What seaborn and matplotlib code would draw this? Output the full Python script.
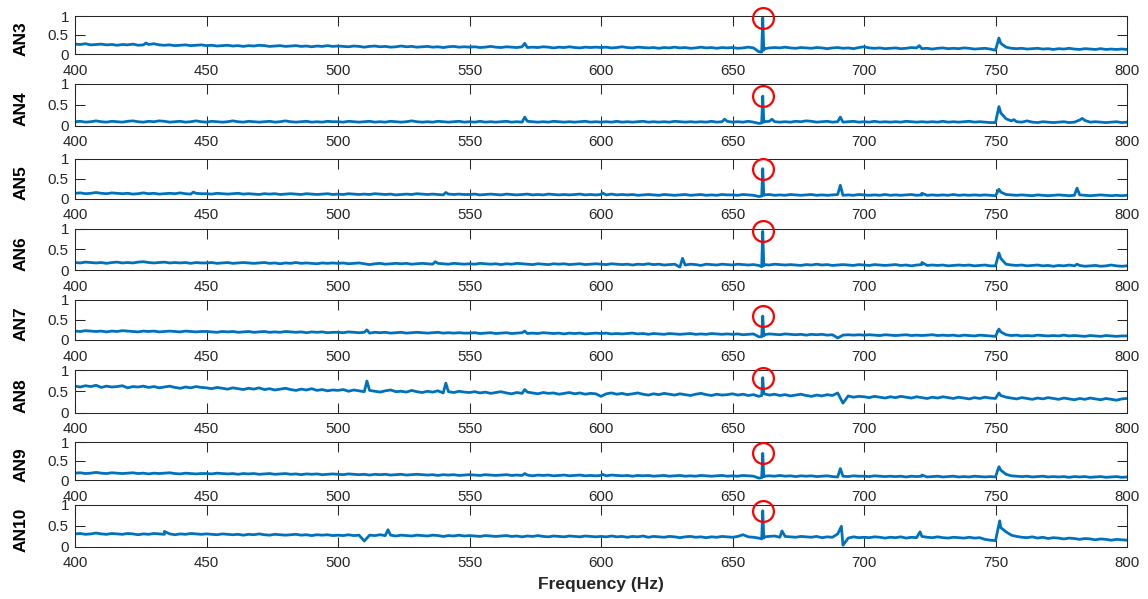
import numpy as np
import pandas as pd
import matplotlib
matplotlib.use("Agg")
import matplotlib.pyplot as plt
import seaborn as sns

# Amplitude spectra of the AN3..AN10 channels, 400-800 Hz
channels = ["AN3", "AN4", "AN5", "AN6", "AN7", "AN8", "AN9", "AN10"]
freq_grid_hz = np.arange(400, 801, 2)

# Background level on the 2 Hz grid, in hundredths
an3_level = [
    26, 25, 27, 24, 25, 26, 24, 25, 23, 25, 24, 26, 23, 24, 25, 27, 24, 23, 24, 22, 23, 24, 22, 23, 24,
    22, 23, 21, 22, 23, 21, 22, 20, 22, 21, 23, 22, 20, 21, 22, 20, 21, 22, 20, 21, 19, 21, 20, 22, 20,
    21, 20, 19, 21, 20, 18, 20, 21, 19, 20, 18, 19, 21, 19, 20, 18, 19, 20, 18, 19, 17, 19, 20, 18, 19,
    18, 19, 17, 18, 20, 18, 17, 19, 18, 17, 19, 17, 18, 17, 19, 18, 16, 18, 17, 19, 17, 16, 18, 17, 18,
    17, 18, 16, 17, 19, 17, 16, 18, 17, 16, 17, 15, 17, 16, 18, 16, 17, 15, 16, 18, 16, 17, 15, 17, 16,
    17, 15, 16, 18, 16, 6, 14, 16, 17, 16, 18, 16, 15, 17, 16, 15, 17, 16, 14, 16, 17, 15, 16, 14, 17,
    19, 16, 15, 16, 14, 15, 16, 14, 15, 17, 16, 14, 15, 13, 15, 16, 14, 15, 14, 16, 15, 13, 14, 15, 13,
    10, 28, 18, 15, 14, 15, 13, 14, 15, 13, 14, 12, 14, 13, 15, 13, 12, 14, 13, 12, 14, 12, 13, 12, 13,
    12]
an4_level = [
    9, 10, 8, 9, 11, 9, 8, 10, 9, 8, 10, 11, 9, 8, 10, 9, 11, 10, 8, 9, 10, 8, 9, 11, 9,
    8, 10, 9, 8, 9, 11, 9, 8, 10, 9, 8, 9, 10, 8, 9, 11, 9, 8, 9, 10, 8, 9, 8, 10, 9,
    9, 8, 10, 9, 8, 9, 10, 8, 9, 8, 10, 9, 8, 9, 11, 9, 8, 9, 8, 10, 9, 8, 9, 10, 8,
    9, 8, 10, 8, 9, 8, 9, 10, 8, 9, 8, 10, 9, 8, 9, 8, 10, 9, 8, 9, 8, 9, 10, 8, 9,
    8, 9, 8, 10, 8, 9, 8, 9, 10, 8, 9, 8, 9, 8, 10, 9, 8, 9, 8, 9, 8, 10, 8, 9, 10,
    8, 9, 8, 10, 8, 5, 9, 10, 9, 8, 9, 8, 10, 9, 11, 10, 8, 9, 10, 8, 9, 8, 9, 10, 8,
    9, 8, 10, 8, 9, 8, 9, 8, 10, 9, 8, 9, 8, 9, 8, 10, 8, 9, 8, 9, 10, 8, 9, 8, 7,
    7, 30, 16, 11, 9, 8, 11, 8, 7, 9, 8, 7, 8, 9, 7, 8, 13, 12, 8, 9, 8, 7, 8, 9, 7,
    8]
an5_level = [
    13, 14, 12, 13, 15, 13, 12, 14, 13, 12, 13, 11, 12, 14, 12, 13, 11, 12, 13, 12, 14, 12, 11, 13, 12,
    12, 11, 13, 12, 11, 12, 13, 11, 12, 11, 10, 12, 11, 12, 10, 11, 12, 11, 10, 12, 11, 10, 11, 12, 10,
    11, 10, 12, 11, 10, 11, 10, 12, 11, 10, 11, 9, 10, 11, 10, 12, 11, 10, 11, 10, 9, 11, 10, 11, 10,
    10, 11, 9, 10, 11, 10, 9, 11, 10, 9, 10, 11, 9, 10, 9, 11, 10, 9, 10, 9, 10, 11, 9, 10, 9,
    10, 9, 11, 9, 10, 9, 10, 8, 9, 10, 9, 8, 10, 9, 8, 9, 10, 8, 9, 10, 8, 9, 8, 10, 9,
    9, 8, 10, 9, 8, 5, 9, 10, 8, 9, 8, 10, 9, 8, 9, 10, 8, 9, 8, 9, 10, 8, 9, 8, 10,
    9, 8, 9, 8, 10, 8, 9, 8, 9, 10, 8, 9, 8, 9, 8, 9, 8, 10, 8, 9, 8, 9, 8, 9, 8,
    7, 16, 10, 9, 8, 9, 8, 7, 9, 8, 7, 8, 9, 8, 7, 8, 9, 8, 7, 8, 9, 8, 7, 8, 7,
    8]
an6_level = [
    18, 17, 19, 18, 17, 18, 16, 18, 19, 17, 18, 17, 19, 20, 18, 17, 18, 19, 17, 18, 17, 18, 16, 18, 17,
    17, 18, 16, 17, 18, 16, 17, 18, 17, 16, 17, 18, 16, 17, 15, 17, 16, 18, 16, 17, 16, 15, 17, 16, 17,
    16, 17, 15, 16, 17, 15, 13, 15, 16, 14, 15, 16, 15, 16, 14, 15, 16, 15, 14, 16, 15, 14, 16, 15, 14,
    15, 14, 16, 15, 14, 15, 13, 15, 14, 16, 15, 14, 13, 15, 14, 13, 15, 14, 15, 13, 14, 15, 13, 14, 15,
    14, 13, 15, 14, 13, 14, 12, 14, 13, 15, 13, 14, 12, 13, 14, 7, 12, 14, 13, 11, 14, 13, 12, 14, 13,
    12, 14, 13, 12, 13, 11, 13, 12, 14, 13, 12, 13, 12, 11, 13, 12, 14, 12, 13, 11, 12, 13, 12, 11, 13,
    12, 11, 13, 12, 11, 12, 13, 11, 12, 10, 12, 13, 11, 12, 11, 12, 10, 11, 12, 11, 12, 10, 11, 12, 10,
    10, 28, 14, 12, 11, 12, 10, 11, 12, 10, 11, 9, 11, 10, 12, 10, 11, 9, 10, 11, 9, 10, 12, 10, 9,
    10]
an7_level = [
    22, 21, 23, 22, 21, 22, 20, 22, 21, 23, 22, 21, 20, 22, 21, 22, 20, 21, 22, 21, 20, 22, 21, 20, 21,
    21, 20, 19, 21, 20, 21, 19, 20, 21, 19, 20, 21, 19, 20, 19, 21, 20, 19, 20, 18, 20, 19, 20, 18, 19,
    19, 18, 20, 19, 18, 19, 17, 19, 18, 19, 17, 18, 19, 17, 18, 19, 18, 17, 18, 19, 17, 18, 17, 18, 17,
    17, 18, 16, 17, 18, 16, 17, 18, 16, 17, 18, 16, 17, 16, 18, 17, 16, 17, 15, 17, 16, 17, 15, 16, 17,
    16, 17, 15, 16, 15, 16, 17, 15, 16, 14, 16, 15, 14, 16, 15, 14, 15, 16, 14, 15, 14, 16, 15, 14, 15,
    14, 15, 13, 14, 15, 8, 13, 15, 14, 13, 15, 14, 13, 14, 12, 14, 13, 14, 12, 13, 5, 12, 13, 12, 13,
    12, 13, 12, 11, 13, 12, 11, 12, 13, 11, 12, 11, 12, 13, 11, 12, 11, 12, 10, 12, 11, 10, 12, 11, 10,
    9, 20, 13, 11, 12, 10, 11, 10, 12, 11, 10, 11, 10, 12, 10, 11, 10, 9, 11, 10, 9, 11, 10, 9, 10,
    10]
an8_level = [
    62, 60, 63, 61, 64, 59, 62, 60, 61, 63, 58, 61, 60, 62, 59, 61, 58, 60, 62, 59, 57, 60, 58, 61, 59,
    58, 56, 59, 57, 55, 58, 56, 54, 57, 55, 58, 54, 56, 53, 55, 57, 54, 52, 55, 53, 56, 52, 54, 51, 53,
    52, 54, 50, 53, 51, 49, 52, 50, 48, 51, 53, 49, 50, 48, 52, 49, 47, 50, 48, 51, 46, 49, 47, 50, 48,
    47, 49, 46, 48, 45, 47, 49, 46, 44, 47, 45, 48, 46, 44, 47, 45, 46, 43, 45, 47, 44, 46, 43, 45, 44,
    38, 44, 46, 43, 45, 42, 44, 46, 43, 41, 44, 42, 45, 43, 41, 44, 42, 40, 43, 45, 42, 40, 43, 41, 42,
    44, 41, 43, 40, 42, 38, 44, 41, 43, 40, 42, 39, 41, 43, 40, 38, 41, 39, 42, 40, 46, 22, 39, 36, 38,
    37, 35, 38, 36, 34, 37, 35, 38, 36, 34, 37, 35, 33, 36, 34, 37, 35, 33, 36, 34, 32, 35, 33, 36, 34,
    33, 40, 36, 34, 32, 35, 33, 31, 34, 32, 35, 33, 31, 34, 32, 30, 33, 31, 34, 32, 30, 33, 31, 29, 32,
    33]
an9_level = [
    18, 19, 17, 18, 20, 18, 17, 19, 18, 17, 18, 19, 17, 18, 16, 18, 17, 18, 19, 17, 16, 18, 17, 16, 17,
    17, 16, 18, 17, 16, 17, 15, 17, 16, 17, 15, 16, 17, 15, 16, 17, 15, 16, 14, 16, 15, 16, 14, 15, 16,
    15, 14, 16, 15, 14, 15, 13, 15, 14, 15, 13, 14, 15, 13, 14, 15, 14, 13, 14, 12, 14, 13, 14, 12, 13,
    14, 13, 12, 14, 13, 12, 13, 14, 12, 13, 12, 13, 11, 13, 12, 13, 11, 12, 13, 11, 12, 13, 11, 12, 11,
    12, 11, 13, 12, 11, 12, 10, 12, 11, 12, 10, 11, 12, 10, 11, 12, 10, 11, 10, 12, 11, 10, 11, 12, 10,
    11, 10, 12, 11, 10, 5, 10, 11, 10, 12, 10, 11, 9, 11, 10, 11, 9, 10, 11, 9, 8, 10, 9, 11, 10,
    10, 9, 11, 10, 9, 10, 9, 10, 8, 10, 9, 10, 8, 9, 10, 8, 9, 10, 8, 9, 8, 10, 9, 8, 9,
    8, 26, 15, 11, 10, 9, 10, 8, 9, 10, 8, 9, 8, 9, 7, 9, 8, 9, 7, 8, 9, 7, 8, 9, 7,
    8]
an10_level = [
    30, 31, 29, 30, 32, 30, 29, 31, 30, 29, 31, 30, 28, 30, 29, 31, 30, 29, 30, 28, 30, 29, 31, 30, 29,
    30, 29, 28, 30, 29, 28, 29, 27, 29, 28, 30, 28, 27, 29, 28, 27, 28, 29, 27, 28, 26, 28, 27, 28, 26,
    27, 26, 28, 26, 27, 13, 27, 26, 28, 26, 27, 25, 27, 26, 25, 27, 26, 25, 27, 26, 24, 26, 25, 27, 25,
    26, 25, 24, 26, 25, 24, 25, 26, 24, 25, 23, 25, 24, 26, 24, 23, 25, 24, 23, 25, 24, 23, 25, 24, 23,
    24, 23, 25, 23, 24, 22, 24, 23, 25, 22, 24, 23, 22, 24, 23, 21, 23, 24, 22, 23, 21, 23, 22, 24, 23,
    22, 24, 28, 23, 22, 20, 23, 24, 25, 22, 24, 23, 22, 24, 23, 22, 24, 21, 23, 22, 30, 3, 20, 23, 21,
    22, 21, 23, 22, 20, 22, 21, 23, 20, 22, 21, 24, 22, 21, 23, 21, 20, 22, 21, 20, 22, 20, 21, 17, 15,
    14, 45, 35, 27, 24, 22, 21, 23, 20, 22, 19, 21, 20, 18, 20, 19, 17, 19, 18, 16, 18, 17, 15, 17, 16,
    15]

# Narrow spectral lines between grid points: (frequency in Hz, amplitude)
an3_lines = [(427, 0.29), (571, 0.28), (661.1, 0.05), (661.9, 0.10), (721, 0.22), (751.3, 0.42)]
an4_lines = [(571, 0.20), (647, 0.15), (661.1, 0.06), (661.9, 0.08), (665, 0.15), (691, 0.20),
             (751.3, 0.45), (757, 0.14), (783, 0.17)]
an5_lines = [(445, 0.16), (541, 0.15), (600.5, 0.14), (661.1, 0.06), (661.9, 0.08), (691, 0.33),
             (722, 0.13), (751.3, 0.23), (781, 0.26)]
an6_lines = [(537, 0.20), (631, 0.28), (661.1, 0.08), (661.9, 0.10), (722, 0.18), (751.3, 0.41),
             (781, 0.14)]
an7_lines = [(511, 0.25), (571, 0.22), (661.1, 0.08), (661.9, 0.10), (751.3, 0.27)]
an8_lines = [(511, 0.74), (541, 0.69), (571, 0.54), (661.1, 0.40), (661.9, 0.44), (751.3, 0.46)]
an9_lines = [(571, 0.17), (600.5, 0.15), (661.1, 0.06), (661.9, 0.08), (691, 0.30), (722, 0.13),
             (751.3, 0.35)]
an10_lines = [(434, 0.36), (519, 0.40), (661.1, 0.18), (661.9, 0.20), (668.8, 0.37), (691.4, 0.48),
              (721.3, 0.35), (751.6, 0.61)]

# Highlighted component at 661.5 Hz
peak_hz = 661.5
peak_values = [0.95, 0.70, 0.745, 0.93, 0.59, 0.82, 0.70, 0.85]

x_ticks = [400, 450, 500, 550, 600, 650, 700, 750, 800]
y_ticks = [0, 0.5, 1]
y_tick_labels = ["0", "0.5", "1"]

levels = [an3_level, an4_level, an5_level, an6_level, an7_level, an8_level, an9_level, an10_level]
lines = [an3_lines, an4_lines, an5_lines, an6_lines, an7_lines, an8_lines, an9_lines, an10_lines]

frames = []
for ch, lvl, extra, pv in zip(channels, levels, lines, peak_values):
    f = np.concatenate([freq_grid_hz, [p[0] for p in extra], [peak_hz]])
    a = np.concatenate([np.asarray(lvl) / 100.0, [p[1] for p in extra], [pv]])
    order = np.argsort(f, kind="stable")
    frames.append(pd.DataFrame({"channel": ch, "freq": f[order], "amp": a[order]}))
df = pd.concat(frames, ignore_index=True)

sns.set_theme(style="ticks")
plt.rcParams["font.family"] = ["Liberation Sans", "DejaVu Sans"]

LINE = "#0072BD"
INK = "#262626"
W, H = 1148, 599

fig = plt.figure(figsize=(W / 100, H / 100), dpi=100)
fig.patch.set_facecolor("white")

# panel extents in pixels (top, bottom), shared left/right
tops = [16, 83.5, 158.5, 228.5, 299.5, 370, 442, 504.5]
bottoms = [54, 125.5, 198.5, 270, 340, 412.5, 480, 546.5]
left_px, right_px = 75, 1127

for ch, pv, t, b in zip(channels, peak_values, tops, bottoms):
    ax = fig.add_axes([left_px / W, 1 - b / H, (right_px - left_px) / W, (b - t) / H])
    sns.lineplot(data=df[df["channel"] == ch], x="freq", y="amp", ax=ax,
                 color=LINE, linewidth=2.0, estimator=None, sort=True, legend=False)
    ax.plot([peak_hz], [pv], marker="o", markersize=15, markerfacecolor="none",
            markeredgecolor="#FF0000", markeredgewidth=1.6, linestyle="none",
            clip_on=False, zorder=5)
    ax.set_xlim(400, 800)
    ax.set_ylim(0, 1)
    ax.set_xticks(x_ticks)
    ax.set_xticklabels([str(v) for v in x_ticks])
    ax.set_yticks(y_ticks)
    ax.set_yticklabels(y_tick_labels)
    ax.set_xlabel("")
    ax.set_ylabel(ch, fontsize=12.5, fontweight="bold", color="black")
    ax.yaxis.set_label_coords(-0.044, 0.4)
    for sp in ax.spines.values():
        sp.set_visible(True)
        sp.set_linewidth(0.75)
        sp.set_color(INK)
    ax.tick_params(axis="both", direction="in", length=7, width=0.75, colors=INK,
                   labelsize=10.8, top=True, right=True, labeltop=False, labelright=False)
    ax.tick_params(axis="x", pad=7)
    ax.tick_params(axis="y", pad=4.5)
    ax.set_facecolor("white")

fig.text(601 / W, 1 - 585 / H, "Frequency (Hz)", ha="center", va="center",
         fontsize=12.5, fontweight="bold", color=INK)

fig.savefig("out.png", dpi=100, facecolor="white")
